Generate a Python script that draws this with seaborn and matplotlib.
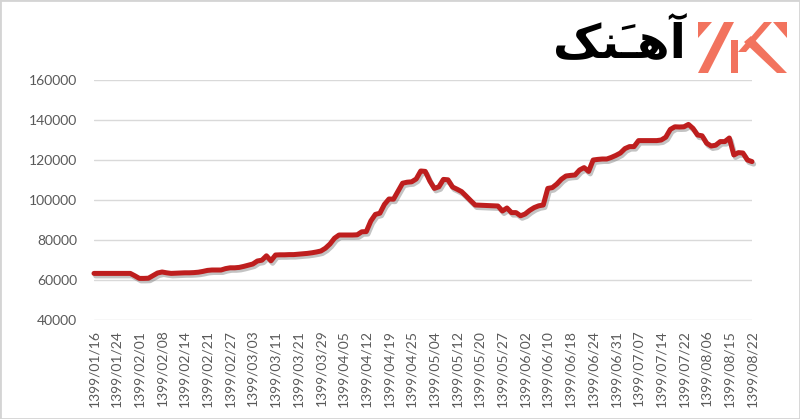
import matplotlib
matplotlib.use("Agg")
import numpy as np
import pandas as pd
import seaborn as sns
import matplotlib.pyplot as plt
import matplotlib.patheffects as pe
from matplotlib.patches import Polygon, Rectangle

# ---- data ----
tick_labels = [
    "1399/01/16", "1399/01/24", "1399/02/01", "1399/02/08", "1399/02/14",
    "1399/02/21", "1399/02/27", "1399/03/03", "1399/03/11", "1399/03/21",
    "1399/03/29", "1399/04/05", "1399/04/12", "1399/04/19", "1399/04/25",
    "1399/05/04", "1399/05/12", "1399/05/20", "1399/05/27", "1399/06/02",
    "1399/06/10", "1399/06/18", "1399/06/24", "1399/06/31", "1399/07/07",
    "1399/07/14", "1399/07/22", "1399/08/06", "1399/08/15", "1399/08/22",
]
points_per_label = 5

values = [
    63300, 63300, 63300, 63300, 63300, 63300, 63300, 63300, 63300, 62100,
    60800, 60800, 60900, 62200, 63500, 64000, 63600, 63300, 63400, 63500,
    63600, 63600, 63700, 63900, 64300, 64800, 65000, 65000, 65000, 65700,
    66100, 66100, 66300, 66800, 67400, 68000, 69500, 69900, 72100, 69600,
    72500, 72600, 72600, 72700, 72700, 72900, 73100, 73300, 73600, 74000,
    74500, 75900, 78000, 80900, 82500, 82500, 82500, 82500, 82600, 84100,
    84200, 89500, 92800, 93400, 97800, 100500, 100400, 104400, 108400, 108900,
    109100, 110500, 114500, 114300, 109500, 105800, 106600, 110300, 110100, 106500,
    105400, 104200, 102000, 99700, 97500, 97400, 97300, 97200, 97100, 97000,
    94500, 96000, 93700, 93700, 92100, 93000, 94800, 96200, 97100, 97500,
    105800, 106200, 108000, 110400, 112000, 112300, 112500, 115000, 116200, 114300,
    120000, 120300, 120500, 120500, 121300, 122300, 123500, 125700, 126700, 126700,
    129700, 129700, 129700, 129700, 129700, 130000, 131400, 135300, 136600, 136500,
    136600, 137800, 135800, 132500, 132100, 128400, 127000, 127400, 129200, 129200,
    131000, 122500, 123700, 123500, 120000, 119200,
]
y_ticks = [40000, 60000, 80000, 100000, 120000, 140000, 160000]
logo_text = "\uFB8F\uFEE8\uFE77\uFEEB\uFE81"  # آهَنک (shaped, visual order)

# ---- style ----
sns.set_theme(style="white")
plt.rcParams['font.family'] = ['Lato', 'DejaVu Sans']

W, H = 800, 419
fig = plt.figure(figsize=(W / 100, H / 100), dpi=100)
fig.patch.set_facecolor("white")

ax = fig.add_axes([94 / W, 1 - 320 / H, (752 - 94) / W, 240 / H])
df = pd.DataFrame({"idx": np.arange(len(values)), "price": values})
sns.lineplot(data=df, x="idx", y="price", ax=ax, color="#BE1E1E",
             linewidth=3.6, estimator=None)
line = ax.lines[0]
line.set_solid_joinstyle("round")
line.set_solid_capstyle("round")
line.set_clip_on(False)
line.set_path_effects([
    pe.SimpleLineShadow(offset=(1.2, -1.8), shadow_color="#7a7a7a", alpha=0.45),
    pe.Normal(),
])

ax.set_xlim(0, len(values) - 1)
ax.set_ylim(y_ticks[0], y_ticks[-1])
ax.set_yticks(y_ticks)
ax.set_yticklabels([str(v) for v in y_ticks])
ax.set_xticks(np.arange(0, len(values), points_per_label))
ax.set_xticklabels(tick_labels, rotation=90)
ax.set_xlabel("")
ax.set_ylabel("")
ax.grid(axis="y", color="#D9D9D9", linewidth=1.0)
ax.grid(axis="x", visible=False)
ax.set_axisbelow(True)
for s in ax.spines.values():
    s.set_visible(False)
ax.tick_params(axis="both", length=0, colors="#595959", labelsize=10)
ax.tick_params(axis="y", pad=12)
ax.tick_params(axis="x", pad=7)

# ---- logo ----
fig.text(686 / W, 1 - 44 / H, logo_text, ha="right", va="center",
         fontsize=34, fontweight="bold", color="black", family=["DejaVu Sans"])

def px(pts):
    return [(x / W, 1 - y / H) for x, y in pts]

logo_color = "#F2735E"
shapes = [
    [(698, 22), (712, 22), (698, 38)],
    [(698, 73), (708, 73), (734, 22), (724, 22)],
    [(731, 40), (738, 40), (738, 73), (731, 73)],
    [(738, 52), (746, 52), (772, 22), (764, 22)],
    [(744, 42), (751, 36), (787, 73), (777, 73)],
    [(787, 22), (773, 22), (787, 38)],
]
for s in shapes:
    fig.patches.append(Polygon(px(s), closed=True, transform=fig.transFigure,
                               facecolor=logo_color, edgecolor="none"))

fig.patches.append(Rectangle((0, 0), 1, 1, transform=fig.transFigure,
                             fill=False, edgecolor="#d4d4d4", linewidth=2))

fig.savefig("out.png", dpi=100)
